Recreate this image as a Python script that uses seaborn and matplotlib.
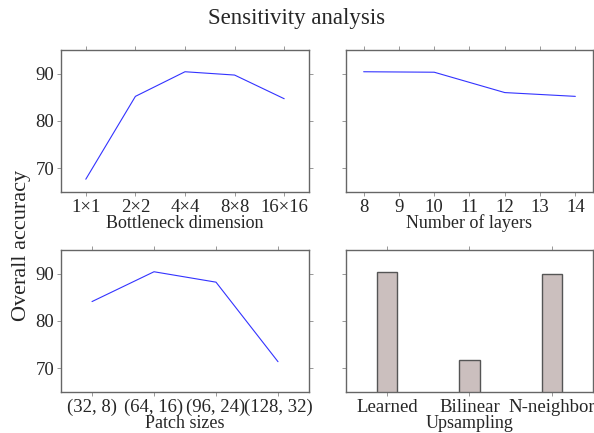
import matplotlib
matplotlib.use('Agg')
import matplotlib.pyplot as plt
import seaborn as sns
import pandas as pd

# Datos
bottleneck = ['1×1', '2×2', '4×4', '8×8', '16×16']
acc_bottleneck = [67.7, 85.2, 90.4, 89.7, 84.7]

layers = [8, 10, 12, 14]
acc_layers = [90.4, 90.3, 86.0, 85.2]

patches = ['(32, 8)', '(64, 16)', '(96, 24)', '(128, 32)']
acc_patches = [84.1, 90.4, 88.2, 71.4]

upsampling = ['Learned', 'Bilinear', 'N-neighbor']
acc_upsampling = [90.4, 71.7, 89.9]

sns.set_style('white')
plt.rcParams['font.family'] = ['Liberation Serif', 'DejaVu Serif']

fig = plt.figure(figsize=(5.94, 4.33), dpi=100)
ax1 = fig.add_axes([0.1027, 0.5566, 0.4175, 0.328])
ax2 = fig.add_axes([0.5825, 0.5566, 0.4158, 0.328])
ax3 = fig.add_axes([0.1027, 0.0947, 0.4175, 0.328])
ax4 = fig.add_axes([0.5825, 0.0947, 0.4158, 0.328])

line_kw = dict(color='#3333ff', linewidth=0.8)

sns.lineplot(x=bottleneck, y=acc_bottleneck, ax=ax1, sort=False, **line_kw)
ax1.set_xlim(-0.5, 4.5)
ax1.set_xlabel('Bottleneck dimension')

sns.lineplot(x=layers, y=acc_layers, ax=ax2, **line_kw)
ax2.set_xlim(7.5, 14.5)
ax2.set_xticks(range(8, 15))
ax2.set_xlabel('Number of layers')

sns.lineplot(x=patches, y=acc_patches, ax=ax3, sort=False, **line_kw)
ax3.set_xlim(-0.5, 3.5)
ax3.set_xlabel('Patch sizes')

df_up = pd.DataFrame({'metodo': upsampling, 'acc': acc_upsampling})
sns.barplot(data=df_up, x='metodo', y='acc', ax=ax4, width=0.25,
            color='#cbbfbe', saturation=1, edgecolor='#555555', linewidth=1)
ax4.set_xlim(-0.5, 2.5)
ax4.set_xlabel('Upsampling')

for ax in [ax1, ax2, ax3, ax4]:
    ax.set_ylim(65, 95)
    ax.set_yticks([70, 80, 90])
    ax.set_ylabel('')
    ax.xaxis.label.set_size(13)
    for s in ax.spines.values():
        s.set_color('#666666')
        s.set_linewidth(1)
    ax.tick_params(direction='out', length=3, width=0.6, color='#888888',
                   labelsize=13.5, top=True, right=True, bottom=True, left=True, pad=2)
    ax.xaxis.labelpad = -1

for ax in [ax2, ax4]:
    ax.tick_params(labelleft=False)

fig.text(0.5, 0.957, 'Sensitivity analysis', ha='center', va='center', fontsize=16.5)
fig.text(0.037, 0.434, 'Overall accuracy', ha='center', va='center', rotation=90, fontsize=16)

plt.savefig('out.png', dpi=100)
